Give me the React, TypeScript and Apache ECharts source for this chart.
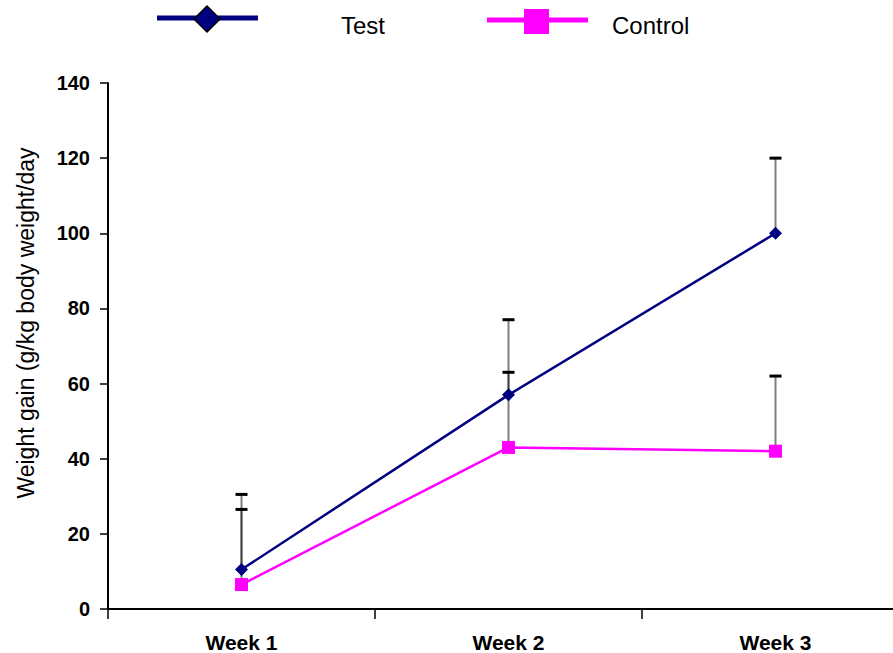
import React, { useEffect, useRef } from "react";
import * as echarts from "echarts";

const categories = ["Week 1", "Week 2", "Week 3"];
const testValues = [10.5, 57, 100];
const controlValues = [6.5, 43, 42];
const testErrors = [20, 20, 20];
const controlErrors = [20, 20, 20];
const yTicks = { min: 0, max: 140, interval: 20 };
const seriesNames = ["Test", "Control"];

const FONT = "'Liberation Sans', Arial, sans-serif";

function errorSeries(name: string, values: number[], errors: number[]) {
  return {
    type: "custom",
    name: name + " error",
    z: 1,
    silent: true,
    data: values.map((v, i) => [i, v, v + errors[i]]),
    renderItem: (params: any, api: any) => {
      const idx = api.value(0);
      const base = api.coord([idx, api.value(1)]);
      const top = api.coord([idx, api.value(2)]);
      return {
        type: "group",
        children: [
          {
            type: "line",
            shape: { x1: base[0], y1: base[1], x2: top[0], y2: top[1] },
            style: { stroke: "rgba(0,0,0,0.5)", lineWidth: 2 },
          },
          {
            type: "line",
            shape: { x1: top[0] - 6, y1: top[1], x2: top[0] + 6, y2: top[1] },
            style: { stroke: "#000", lineWidth: 3 },
          },
        ],
      };
    },
  };
}

export default function App() {
  const ref = useRef<HTMLDivElement>(null);
  useEffect(() => {
    if (!ref.current) return;
    const chart = echarts.init(ref.current, null, { renderer: "svg" });
    chart.setOption({
      animation: false,
      backgroundColor: "#fff",
      grid: { left: 108, top: 83, width: 801, height: 527 },
      xAxis: {
        type: "category",
        data: categories,
        boundaryGap: true,
        axisLine: { lineStyle: { color: "#000", width: 2 } },
        axisTick: { show: true, length: 10, interval: 0, lineStyle: { color: "#000", width: 1.5 } },
        axisLabel: { color: "#000", fontSize: 21, fontWeight: "bold", fontFamily: FONT, margin: 23, interval: 0 },
        splitLine: { show: false },
      },
      yAxis: {
        type: "value",
        min: yTicks.min,
        max: yTicks.max,
        interval: yTicks.interval,
        axisLine: { show: true, lineStyle: { color: "#000", width: 2 } },
        axisTick: { show: true, length: 8, lineStyle: { color: "#000", width: 1.5 } },
        axisLabel: { color: "#000", fontSize: 20, fontWeight: "bold", fontFamily: FONT, margin: 18 },
        splitLine: { show: false },
      },
      series: [
        errorSeries(seriesNames[0], testValues, testErrors),
        errorSeries(seriesNames[1], controlValues, controlErrors),
        {
          type: "line",
          name: seriesNames[0],
          data: testValues,
          z: 3,
          symbol: "diamond",
          symbolSize: 13,
          lineStyle: { color: "#000080", width: 2.5 },
          itemStyle: { color: "#000080" },
        },
        {
          type: "line",
          name: seriesNames[1],
          data: controlValues,
          z: 2,
          symbol: "rect",
          symbolSize: 13,
          lineStyle: { color: "#ff00ff", width: 2.5 },
          itemStyle: { color: "#ff00ff" },
        },
      ],
      graphic: [
        {
          type: "text",
          x: 26,
          y: 323,
          rotation: Math.PI / 2,
          style: {
            text: "Weight gain (g/kg body weight/day",
            fill: "#000",
            font: `23px ${FONT}`,
            align: "center",
            verticalAlign: "middle",
          },
        },
        { type: "line", shape: { x1: 157, y1: 18, x2: 258, y2: 18 }, style: { stroke: "#000080", lineWidth: 5 } },
        {
          type: "polygon",
          shape: { points: [[207, 6], [220, 19], [207, 32], [194, 19]] },
          style: { fill: "#000080", stroke: "#000", lineWidth: 1.5 },
        },
        {
          type: "text",
          x: 341,
          y: 25,
          style: { text: seriesNames[0], fill: "#000", font: `24px ${FONT}`, align: "left", verticalAlign: "middle" },
        },
        { type: "line", shape: { x1: 487, y1: 20, x2: 588, y2: 20 }, style: { stroke: "#ff00ff", lineWidth: 5 } },
        { type: "rect", shape: { x: 524, y: 9, width: 25, height: 25 }, style: { fill: "#ff00ff" } },
        {
          type: "text",
          x: 612,
          y: 25,
          style: { text: seriesNames[1], fill: "#000", font: `24px ${FONT}`, align: "left", verticalAlign: "middle" },
        },
      ],
    });
    return () => chart.dispose();
  }, []);
  return (
    <div style={{ position: "fixed", left: 0, top: 0, width: 893, height: 653, overflow: "hidden", background: "#fff" }}>
      <div ref={ref} style={{ width: 920, height: 653 }} />
    </div>
  );
}
